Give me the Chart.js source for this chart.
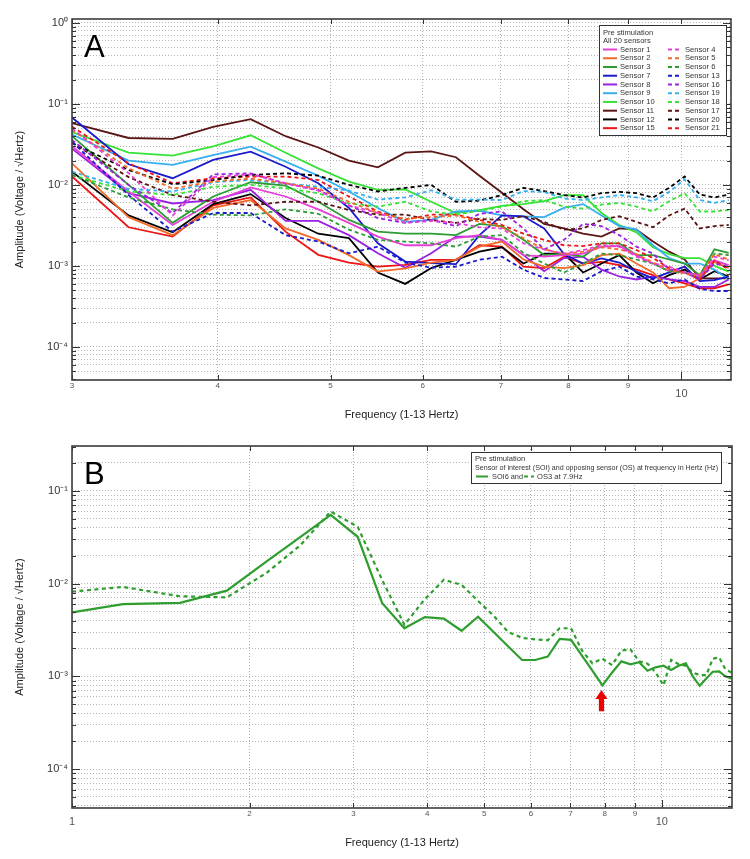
<!DOCTYPE html>
<html lang="en">
<head>
<meta charset="UTF-8">
<title>Pre stimulation - amplitude spectra</title>
<script src="https://cdn.jsdelivr.net/npm/chart.js"></script>
<style>
  html, body { margin: 0; padding: 0; background: #fff; }
  #wrapA { position: absolute; left: 0; top: 0; width: 750px; height: 430px; }
  #wrapB { position: absolute; left: 0; top: 430px; width: 750px; height: 429px; }
</style>
</head>
<body>
<div id="wrapA"><canvas id="chartA"></canvas></div>
<div id="wrapB"><canvas id="chartB"></canvas></div>

<script>
// ---- Panel A data (Hz, amplitude) ----
const freqA = [3.0, 3.355, 3.66, 3.965, 4.27, 4.575, 4.88, 5.185, 5.49, 5.795, 6.1, 6.405, 6.71, 7.015,
               7.32, 7.625, 7.93, 8.235, 8.54, 8.845, 9.15, 9.455, 9.76, 10.065, 10.37, 10.675, 10.98];

const sensor1  = [0.030, 0.0083, 0.0032, 0.0062, 0.0093, 0.0072, 0.005, 0.0034, 0.0023, 0.0018, 0.0018, 0.0022, 0.0024, 0.0021, 0.00136, 0.0013, 0.00136, 0.00142, 0.00173, 0.00176, 0.00136, 0.00107, 0.00086, 0.00083, 0.00077, 0.00117, 0.00102];
const sensor2  = [0.0185, 0.0040, 0.0024, 0.0052, 0.0065, 0.0029, 0.0021, 0.00136, 0.00085, 0.00093, 0.0011, 0.00119, 0.00173, 0.002, 0.0012, 0.00098, 0.00094, 0.00102, 0.00136, 0.00142, 0.00107, 0.00083, 0.00053, 0.00055, 0.00071, 0.00112, 0.00094];
const sensor3  = [0.040, 0.010, 0.0034, 0.0072, 0.0108, 0.0098, 0.0062, 0.0037, 0.00265, 0.0025, 0.0025, 0.0024, 0.0033, 0.0031, 0.0021, 0.00136, 0.00142, 0.0013, 0.0019, 0.0019, 0.00136, 0.00136, 0.0012, 0.00107, 0.00077, 0.0016, 0.00145];
const sensor7  = [0.068, 0.018, 0.0121, 0.0204, 0.0258, 0.0168, 0.0105, 0.0052, 0.0019, 0.00113, 0.00108, 0.00105, 0.0024, 0.0042, 0.0041, 0.0029, 0.0014, 0.00107, 0.00124, 0.0011, 0.00085, 0.0007, 0.00083, 0.00098, 0.00065, 0.00067, 0.00074];
const sensor8  = [0.028, 0.0079, 0.0059, 0.0065, 0.0087, 0.0036, 0.0036, 0.0024, 0.00143, 0.00095, 0.00143, 0.0023, 0.0023, 0.0021, 0.00136, 0.00086, 0.00125, 0.0013, 0.0009, 0.00074, 0.00068, 0.00074, 0.00068, 0.00065, 0.00055, 0.00055, 0.00068];
const sensor9  = [0.042, 0.020, 0.0177, 0.0234, 0.0297, 0.0194, 0.013, 0.0083, 0.0052, 0.0035, 0.0037, 0.0047, 0.0048, 0.0042, 0.0041, 0.004, 0.0052, 0.0058, 0.0042, 0.0031, 0.0028, 0.0018, 0.00125, 0.00107, 0.00107, 0.0009, 0.00068];
const sensor10 = [0.045, 0.025, 0.023, 0.030, 0.041, 0.025, 0.016, 0.011, 0.0087, 0.0088, 0.0062, 0.0045, 0.0049, 0.0055, 0.0058, 0.0063, 0.0075, 0.0075, 0.0045, 0.0032, 0.0026, 0.0017, 0.0014, 0.00125, 0.00125, 0.001, 0.00085];
const sensor11 = [0.058, 0.038, 0.037, 0.052, 0.065, 0.040, 0.029, 0.020, 0.0165, 0.025, 0.026, 0.022, 0.013, 0.008, 0.005, 0.0033, 0.0029, 0.0025, 0.0023, 0.0029, 0.0028, 0.002, 0.0015, 0.0012, 0.0007, 0.0007, 0.0007];
const sensor12 = [0.0146, 0.0042, 0.0026, 0.0058, 0.0077, 0.0039, 0.0025, 0.0022, 0.00083, 0.0006, 0.00094, 0.00119, 0.0015, 0.0017, 0.00107, 0.00142, 0.00142, 0.00083, 0.00107, 0.00136, 0.00083, 0.00061, 0.00077, 0.0009, 0.00068, 0.00086, 0.00074];
const sensor15 = [0.0127, 0.0030, 0.0023, 0.0056, 0.007, 0.00265, 0.00137, 0.0011, 0.00098, 0.00103, 0.00119, 0.00119, 0.0018, 0.00173, 0.00098, 0.00094, 0.0013, 0.00107, 0.00112, 0.00102, 0.0009, 0.00077, 0.00068, 0.00061, 0.00053, 0.00053, 0.00059];

const sensor4  = [0.05, 0.014, 0.0042, 0.0125, 0.0135, 0.0105, 0.0085, 0.0056, 0.0045, 0.0034, 0.0036, 0.0034, 0.003, 0.0029, 0.0019, 0.0016, 0.00142, 0.00157, 0.0018, 0.00173, 0.0013, 0.00107, 0.00098, 0.00083, 0.00074, 0.0013, 0.00117];
const sensor5  = [0.048, 0.016, 0.009, 0.011, 0.012, 0.0105, 0.009, 0.0062, 0.0045, 0.0038, 0.0040, 0.0042, 0.0035, 0.003, 0.0022, 0.0016, 0.0014, 0.0015, 0.0017, 0.0016, 0.0014, 0.0011, 0.0009, 0.0008, 0.00075, 0.0014, 0.0012];
const sensor6  = [0.0133, 0.007, 0.005, 0.0043, 0.0042, 0.005, 0.0044, 0.0028, 0.0021, 0.002, 0.0019, 0.00173, 0.0023, 0.0024, 0.00145, 0.00107, 0.00083, 0.00107, 0.00142, 0.00136, 0.0012, 0.00107, 0.00086, 0.00083, 0.00074, 0.00142, 0.00136];
const sensor13 = [0.034, 0.0075, 0.00265, 0.0045, 0.0045, 0.0024, 0.002, 0.00143, 0.00173, 0.0011, 0.00095, 0.00098, 0.00119, 0.0013, 0.0009, 0.00071, 0.00068, 0.00065, 0.00086, 0.00098, 0.00074, 0.00068, 0.00061, 0.00068, 0.00052, 0.00049, 0.00049];
const sensor16 = [0.036, 0.010, 0.0045, 0.0135, 0.0139, 0.0104, 0.0087, 0.0056, 0.0039, 0.0034, 0.0037, 0.0031, 0.0044, 0.0047, 0.0029, 0.0016, 0.0021, 0.0033, 0.0031, 0.0024, 0.00173, 0.00142, 0.0009, 0.00083, 0.00068, 0.00107, 0.00098];
const sensor19 = [0.0146, 0.0089, 0.0083, 0.0108, 0.0115, 0.0104, 0.0095, 0.0085, 0.0066, 0.007, 0.0086, 0.0066, 0.0066, 0.0065, 0.0084, 0.0082, 0.0068, 0.0065, 0.007, 0.0075, 0.007, 0.0063, 0.0082, 0.0117, 0.0065, 0.006, 0.0065];
const sensor18 = [0.0133, 0.0083, 0.0075, 0.0095, 0.010, 0.0091, 0.0079, 0.0059, 0.0054, 0.0062, 0.0047, 0.0043, 0.0048, 0.0054, 0.0063, 0.0065, 0.0054, 0.0051, 0.0057, 0.006, 0.0054, 0.0047, 0.0063, 0.0079, 0.0047, 0.0047, 0.0049];
const sensor17 = [0.033, 0.0125, 0.0075, 0.0062, 0.0056, 0.0062, 0.0062, 0.0049, 0.0043, 0.0043, 0.0037, 0.0034, 0.0038, 0.0037, 0.0041, 0.0035, 0.0028, 0.0029, 0.0037, 0.0041, 0.0035, 0.003, 0.0042, 0.0051, 0.0029, 0.0031, 0.0032];
const sensor20 = [0.033, 0.0153, 0.0102, 0.0115, 0.0133, 0.0139, 0.013, 0.010, 0.0083, 0.0092, 0.010, 0.0062, 0.0064, 0.0075, 0.0092, 0.0084, 0.0075, 0.007, 0.0079, 0.0082, 0.0079, 0.007, 0.0092, 0.0127, 0.0076, 0.007, 0.0076];
const sensor21 = [0.0525, 0.0185, 0.0105, 0.0121, 0.0127, 0.0127, 0.0115, 0.0072, 0.0047, 0.0037, 0.0043, 0.0043, 0.0037, 0.0032, 0.0025, 0.0021, 0.0018, 0.00176, 0.0019, 0.0019, 0.00157, 0.00125, 0.00094, 0.00083, 0.00068, 0.00117, 0.0009];

const solidLabels  = ['Sensor 1', 'Sensor 2', 'Sensor 3', 'Sensor 7', 'Sensor 8', 'Sensor 9', 'Sensor 10', 'Sensor 11', 'Sensor 12', 'Sensor 15'];
const solidValues  = [sensor1, sensor2, sensor3, sensor7, sensor8, sensor9, sensor10, sensor11, sensor12, sensor15];
const dashedLabels = ['Sensor 4', 'Sensor 5', 'Sensor 6', 'Sensor 13', 'Sensor 16', 'Sensor 19', 'Sensor 18', 'Sensor 17', 'Sensor 20', 'Sensor 21'];
const dashedValues = [sensor4, sensor5, sensor6, sensor13, sensor16, sensor19, sensor18, sensor17, sensor20, sensor21];
const legendTitleA = ['Pre stimulation', 'All 20 sensors'];

// ---- Panel B data ----
const freqB = [1.0, 1.22, 1.525, 1.83, 2.135, 2.44, 2.745, 3.05, 3.355, 3.66, 3.965, 4.27, 4.575, 4.88, 5.185, 5.49,
               5.795, 6.1, 6.405, 6.71, 7.015, 7.32, 7.625, 7.93, 8.235, 8.54, 8.845, 9.15, 9.455, 9.76, 10.065,
               10.37, 10.675, 10.98, 11.285, 11.59, 11.895, 12.2, 12.505, 12.81, 13.115];
const soi6 = [0.0049, 0.0060, 0.0062, 0.0084, 0.0173, 0.032, 0.055, 0.032, 0.0062, 0.0033, 0.00435, 0.0042, 0.0031, 0.0044, 0.0030, 0.0021,
              0.0015, 0.0015, 0.00163, 0.00253, 0.00247, 0.00167, 0.00115, 0.0008, 0.0011, 0.00145, 0.00135, 0.00142, 0.00115, 0.00125, 0.0013,
              0.00117, 0.0013, 0.00138, 0.0010, 0.00079, 0.00095, 0.00112, 0.00113, 0.0010, 0.00095];
const os3  = [0.0082, 0.0092, 0.0073, 0.0071, 0.013, 0.026, 0.060, 0.041, 0.011, 0.0036, 0.0068, 0.011, 0.0097, 0.0065, 0.0045, 0.0030,
              0.0026, 0.0025, 0.00245, 0.0033, 0.0033, 0.0019, 0.00138, 0.00155, 0.00132, 0.0019, 0.00195, 0.00145, 0.00137, 0.0011, 0.0008,
              0.0015, 0.00135, 0.0013, 0.0011, 0.00103, 0.00103, 0.00155, 0.0016, 0.0012, 0.0011];
const seriesLabelsB = ['SOI6 and', 'OS3 at 7.9Hz'];
const legendTitleB = ['Pre stimulation', 'Sensor of interest (SOI) and opposing sensor (OS) at frequency in Hertz (Hz)'];
const arrowB = { freq: 7.9, top: 7.1e-4, bottom: 4.2e-4 };

// ---- axis ticks ----
const xTicksA = [3, 4, 5, 6, 7, 8, 9, 10];
const xTicksB = [1, 2, 3, 4, 5, 6, 7, 8, 9, 10];

// ---- styles ----
const pairColors = ['#e63fd8', '#f26a28', '#2c9c34', '#1b1bcc', '#9b20e0', '#36aef0', '#36e236', '#5a1414', '#000000', '#ee1414'];
const greenB = '#2f9e2f';
const FONT = '"Liberation Sans", Arial, sans-serif';
const NARROW = '"Liberation Sans Narrow", "Liberation Sans", Arial, sans-serif';

function logTicks(min, max) {
  const out = [];
  for (let e = -5; e <= 0; e++) {
    for (let m = 1; m <= 9; m++) {
      const v = Number((m * Math.pow(10, e)).toPrecision(3));
      if (v >= min * 0.999 && v <= max * 1.001) out.push(v);
    }
  }
  return out;
}
const SUP = { '-': '⁻', '0': '⁰', '1': '¹', '2': '²', '3': '³', '4': '⁴', '5': '⁵' };
function isPow10(v) {
  const e = Math.log10(v);
  return Math.abs(e - Math.round(e)) < 1e-6;
}
function powLabel(v) {
  if (!isPow10(v)) return '';
  return '10' + String(Math.round(Math.log10(v))).split('').map(c => SUP[c]).join('');
}
function pts(xs, ys) { return xs.map((x, i) => ({ x: x, y: ys[i] })); }

// frame, inward ticks, panel letter, legend, arrow
const decorPlugin = {
  id: 'decor',
  afterDatasetsDraw(chart, args, o) {
    const { ctx, chartArea: a, scales: { x, y } } = chart;
    const seg = (x1, y1, x2, y2) => { ctx.beginPath(); ctx.moveTo(x1, y1); ctx.lineTo(x2, y2); ctx.stroke(); };
    ctx.save();
    ctx.strokeStyle = '#333';
    ctx.lineWidth = 1;
    y.ticks.forEach(t => {
      const py = Math.round(y.getPixelForValue(t.value)) + 0.5;
      const len = isPow10(t.value) ? 8 : 4;
      seg(a.left, py, a.left + len, py);
      seg(a.right, py, a.right - len, py);
    });
    x.ticks.forEach(t => {
      const px = Math.round(x.getPixelForValue(t.value)) + 0.5;
      const len = t.value === 10 ? 8 : 5;
      seg(px, a.top, px, a.top + 5);
      seg(px, a.bottom, px, a.bottom - len);
    });
    ctx.strokeStyle = '#3c3c3c';
    ctx.lineWidth = 1.6;
    ctx.strokeRect(a.left, a.top, a.right - a.left, a.bottom - a.top);

    ctx.fillStyle = '#000';
    ctx.font = '31px ' + FONT;
    ctx.textBaseline = 'alphabetic';
    ctx.textAlign = 'left';
    ctx.fillText(o.letter, a.left + 12, a.top + 38);

    if (o.arrow) {
      const ax = x.getPixelForValue(o.arrow.freq);
      const t = y.getPixelForValue(o.arrow.top);
      const b = y.getPixelForValue(o.arrow.bottom);
      ctx.fillStyle = '#ee0000';
      ctx.beginPath();
      ctx.moveTo(ax, t);
      ctx.lineTo(ax + 6, t + 9);
      ctx.lineTo(ax + 2.6, t + 9);
      ctx.lineTo(ax + 2.6, b);
      ctx.lineTo(ax - 2.6, b);
      ctx.lineTo(ax - 2.6, t + 9);
      ctx.lineTo(ax - 6, t + 9);
      ctx.closePath();
      ctx.fill();
    }

    const ds = chart.data.datasets;
    const sample = (d, x1, x2, yy) => {
      ctx.strokeStyle = d.borderColor;
      ctx.lineWidth = 2;
      ctx.setLineDash(d.borderDash && d.borderDash.length ? [4, 3] : []);
      seg(x1, yy, x2, yy);
      ctx.setLineDash([]);
    };
    ctx.font = '7.6px ' + NARROW;
    ctx.textBaseline = 'middle';
    if (o.legend === 'A') {
      const x0 = a.right - 132, y0 = a.top + 6, w = 127, h = 110;
      ctx.fillStyle = '#fff';
      ctx.fillRect(x0, y0, w, h);
      ctx.strokeStyle = '#333'; ctx.lineWidth = 1;
      ctx.strokeRect(x0 + 0.5, y0 + 0.5, w, h);
      ctx.fillStyle = '#333';
      legendTitleA.forEach((s, i) => ctx.fillText(s, x0 + 4, y0 + 7.5 + i * 8.7));
      const solid = ds.filter(d => !d.borderDash.length);
      const dashed = ds.filter(d => d.borderDash.length);
      solid.forEach((d, i) => {
        const yy = y0 + 24.5 + i * 8.74;
        sample(d, x0 + 4, x0 + 18, yy);
        ctx.fillStyle = '#333';
        ctx.fillText(d.label, x0 + 21, yy);
      });
      dashed.forEach((d, i) => {
        const yy = y0 + 24.5 + i * 8.74;
        sample(d, x0 + 69, x0 + 80, yy);
        ctx.fillStyle = '#333';
        ctx.fillText(d.label, x0 + 86, yy);
      });
    } else if (o.legend === 'B') {
      const x0 = a.right - 261, y0 = a.top + 6, w = 250, h = 31;
      ctx.fillStyle = '#fff';
      ctx.fillRect(x0, y0, w, h);
      ctx.strokeStyle = '#333'; ctx.lineWidth = 1;
      ctx.strokeRect(x0 + 0.5, y0 + 0.5, w, h);
      ctx.fillStyle = '#333';
      ctx.fillText(legendTitleB[0], x0 + 4, y0 + 7);
      ctx.fillText(legendTitleB[1], x0 + 4, y0 + 16, 243);
      const yy = y0 + 24.5;
      sample(ds[0], x0 + 5, x0 + 17, yy);
      ctx.fillStyle = '#333';
      ctx.fillText(ds[0].label, x0 + 21, yy, 31);
      sample(ds[1], x0 + 53, x0 + 63, yy);
      ctx.fillStyle = '#333';
      ctx.fillText(ds[1].label, x0 + 66, yy);
    }
    ctx.restore();
  }
};

function makeOptions(cfg) {
  const yTicks = logTicks(cfg.yMin, cfg.yMax);
  return {
    responsive: true,
    maintainAspectRatio: false,
    animation: false,
    layout: { padding: { top: cfg.padTop, right: cfg.padRight, left: 0, bottom: 0 } },
    plugins: {
      legend: { display: false },
      tooltip: { enabled: false },
      decor: { letter: cfg.letter, legend: cfg.legend, arrow: cfg.arrow }
    },
    elements: { point: { radius: 0 }, line: { tension: 0 } },
    scales: {
      x: {
        type: 'logarithmic',
        min: cfg.xMin,
        max: cfg.xMax,
        afterBuildTicks: s => { s.ticks = cfg.xTicks.map(v => ({ value: v })); },
        afterFit: s => { s.height = cfg.xHeight; },
        grid: { color: '#aeb0c6', lineWidth: 1, drawTicks: false, borderDash: [1, 2] },
        border: { display: false, dash: [1, 2] },
        ticks: {
          autoSkip: false,
          maxRotation: 0,
          padding: 1,
          color: '#555',
          font: c => (c.tick && cfg.bigX.includes(c.tick.value))
            ? { family: FONT, size: 11, lineHeight: 0.8 }
            : { family: FONT, size: 8, lineHeight: 1.2 },
          callback: v => cfg.bigX.includes(v) ? ['', String(v)] : String(v)
        },
        title: {
          display: true,
          text: 'Frequency (1-13 Hertz)',
          color: '#222',
          font: { family: FONT, size: 11 },
          padding: { top: 0, bottom: cfg.xTitlePad }
        }
      },
      y: {
        type: 'logarithmic',
        min: cfg.yMin,
        max: cfg.yMax,
        afterBuildTicks: s => { s.ticks = yTicks.map(v => ({ value: v })); },
        afterFit: s => { s.width = 72; },
        grid: { color: '#b4b4b4', lineWidth: 1, drawTicks: false, borderDash: [1, 2] },
        border: { display: false, dash: [1, 2] },
        ticks: {
          autoSkip: false,
          padding: 4,
          color: '#333',
          font: { family: FONT, size: 11 },
          callback: v => powLabel(v)
        },
        title: {
          display: true,
          text: 'Amplitude (Voltage / √Hertz)',
          color: '#222',
          font: { family: FONT, size: 11 },
          padding: { top: 13, bottom: 0 }
        }
      }
    }
  };
}

// ---- Chart A ----
// dashed series first so the solid ones are drawn over them
const datasetsA = [];
dashedValues.forEach((vals, i) => datasetsA.push({
  label: dashedLabels[i], data: pts(freqA, vals),
  borderColor: pairColors[i], borderWidth: 1.8, borderDash: [4, 3], fill: false
}));
solidValues.forEach((vals, i) => datasetsA.push({
  label: solidLabels[i], data: pts(freqA, vals),
  borderColor: pairColors[i], borderWidth: 1.8, borderDash: [], fill: false
}));
new Chart(document.getElementById('chartA'), {
  type: 'line',
  data: { datasets: datasetsA },
  options: makeOptions({
    letter: 'A', legend: 'A', arrow: null,
    xMin: 3, xMax: 11.03, xTicks: xTicksA, bigX: [10],
    yMin: 3.9e-5, yMax: 1.12,
    padTop: 19, padRight: 19, xHeight: 50, xTitlePad: 8
  }),
  plugins: [decorPlugin]
});

// ---- Chart B ----
new Chart(document.getElementById('chartB'), {
  type: 'line',
  data: {
    datasets: [
      { label: seriesLabelsB[0], data: pts(freqB, soi6), borderColor: greenB, borderWidth: 2.2, borderDash: [], fill: false },
      { label: seriesLabelsB[1], data: pts(freqB, os3), borderColor: greenB, borderWidth: 2.2, borderDash: [4, 3.5], fill: false }
    ]
  },
  options: makeOptions({
    letter: 'B', legend: 'B', arrow: arrowB,
    xMin: 1, xMax: 13.15, xTicks: xTicksB, bigX: [1, 10],
    yMin: 3.8e-5, yMax: 0.305,
    padTop: 16, padRight: 18, xHeight: 51, xTitlePad: 9
  }),
  plugins: [decorPlugin]
});
</script>
</body>
</html>
